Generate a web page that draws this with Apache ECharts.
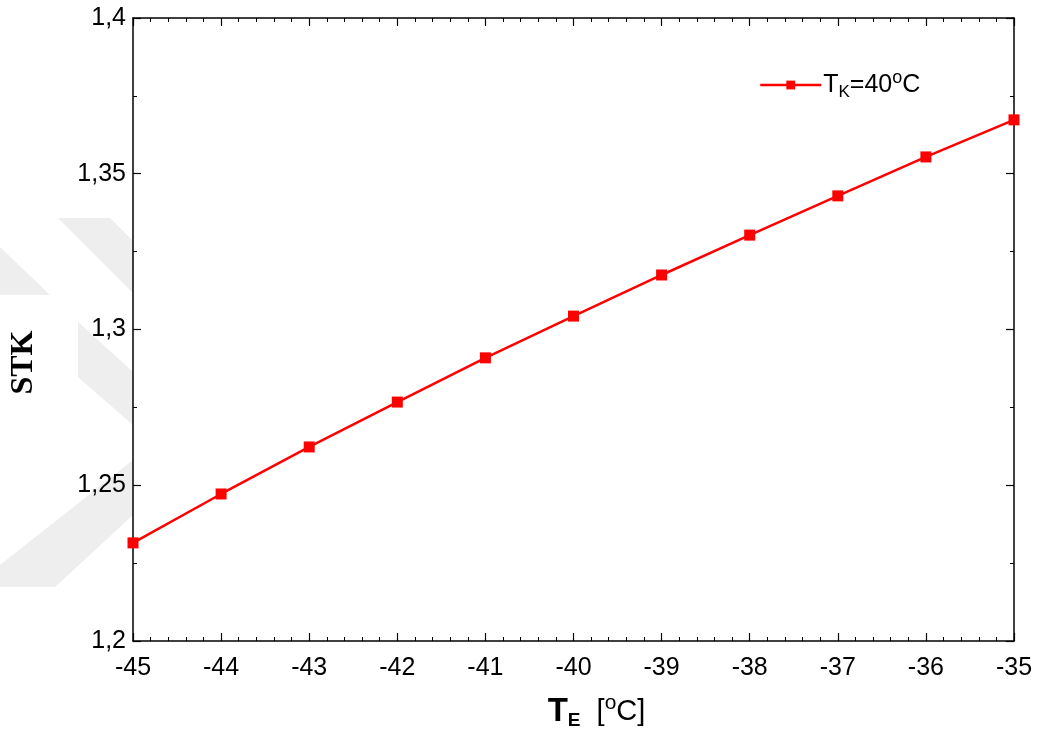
<!DOCTYPE html>
<html>
<head>
<meta charset="utf-8">
<script src="https://cdn.jsdelivr.net/npm/echarts@6/dist/echarts.min.js"></script>
<style>html,body{margin:0;padding:0;background:#fff;}#c{width:1042px;height:731px;}</style>
</head>
<body>
<div id="c"></div>
<script>
const teValues = [-45, -44, -43, -42, -41, -40, -39, -38, -37, -36, -35];
const stkValues = [1.2315, 1.2472, 1.2623, 1.2767, 1.2909, 1.3043, 1.3175, 1.3303, 1.3429, 1.3554, 1.3673];
const seriesName = 'TK=40oC';

const chart = echarts.init(document.getElementById('c'), null, {renderer: 'canvas'});
const font = '"Liberation Sans", Arial, sans-serif';
const fmtY = v => {
  let s = (Math.round(v * 1000) / 1000).toString();
  return s.replace('.', ',');
};
const axisCommon = {
  axisLine: {show: true, onZero: false, lineStyle: {color: '#000', width: 1.5}},
  axisTick: {show: true, inside: true, length: 8, lineStyle: {color: '#000', width: 1.2}},
  minorTick: {show: true, length: 4, lineStyle: {color: '#000', width: 1}},
  splitLine: {show: false}
};
const wm = '#eeeeee';
chart.setOption({
  backgroundColor: '#fff',
  animation: false,
  graphic: [
    {type: 'polygon', z: -10, silent: true, shape: {points: [[0,247],[50,295],[0,295]]}, style: {fill: wm}},
    {type: 'polygon', z: -10, silent: true, shape: {points: [[58,218],[110,218],[133,241],[133,293]]}, style: {fill: wm}},
    {type: 'polygon', z: -10, silent: true, shape: {points: [[78,322],[133,372],[133,425],[78,377]]}, style: {fill: wm}},
    {type: 'polygon', z: -10, silent: true, shape: {points: [[0,565],[133,460],[133,515],[55,587],[0,587]]}, style: {fill: wm}}
  ],
  grid: {left: 133, top: 18, right: 28, bottom: 90, show: true, backgroundColor: '#fff', borderWidth: 0, outerBoundsMode: 'none', containLabel: false},
  legend: {
    left: 754, top: 64,
    itemWidth: 61, itemHeight: 11, itemGap: 0,
    data: [seriesName],
    formatter: () => 'T{sub|K}=40{sup|o}C',
    lineStyle: {width: 2.5},
    textStyle: {
      fontFamily: font, fontSize: 25, color: '#000', padding: [0,0,0,-3],
      rich: {
        sub: {fontFamily: font, fontSize: 17, verticalAlign: 'bottom', padding: [14,0,0,0]},
        sup: {fontFamily: font, fontSize: 18, verticalAlign: 'top', padding: [0,0,14,0]}
      }
    }
  },
  xAxis: [
    Object.assign({}, axisCommon, {
      type: 'value', min: -45, max: -35, interval: 1, position: 'bottom',
      minorTick: Object.assign({}, axisCommon.minorTick, {splitNumber: 5}),
      axisLabel: {fontFamily: font, fontSize: 25, color: '#000', margin: 15},
      name: '{b|T}{bs|E}  [{sup|o}C]',
      nameLocation: 'middle', nameGap: 52,
      nameTextStyle: {
        padding: [0,0,0,46],
        rich: {
          b: {fontFamily: font, fontSize: 33, fontWeight: 'bold', color: '#000'},
          bs: {fontFamily: font, fontSize: 19, fontWeight: 'bold', color: '#000', verticalAlign: 'bottom', padding: [16,0,0,0]},
          sup: {fontFamily: font, fontSize: 21, color: '#000', verticalAlign: 'top', padding: [0,0,16,0]}
        },
        fontFamily: font, fontSize: 29, color: '#000'
      }
    }),
    Object.assign({}, axisCommon, {
      type: 'value', min: -45, max: -35, interval: 1, position: 'top',
      minorTick: Object.assign({}, axisCommon.minorTick, {splitNumber: 5}),
      axisLabel: {show: false}
    })
  ],
  yAxis: [
    Object.assign({}, axisCommon, {
      type: 'value', min: 1.2, max: 1.4, interval: 0.05, position: 'left',
      minorTick: Object.assign({}, axisCommon.minorTick, {splitNumber: 2}),
      axisLabel: {fontFamily: font, fontSize: 25, color: '#000', margin: 7, formatter: fmtY},
      name: 'STK', nameLocation: 'middle', nameGap: 93,
      nameTextStyle: {fontFamily: '"Liberation Serif", "DejaVu Serif", serif', fontSize: 32, fontWeight: 'bold', color: '#000', padding: [0,0,0,-66]}
    }),
    Object.assign({}, axisCommon, {
      type: 'value', min: 1.2, max: 1.4, interval: 0.05, position: 'right',
      minorTick: Object.assign({}, axisCommon.minorTick, {splitNumber: 2}),
      axisLabel: {show: false}
    })
  ],
  series: [{
    name: seriesName, type: 'line',
    xAxisIndex: 0, yAxisIndex: 0,
    data: teValues.map((x, i) => [x, stkValues[i]]),
    symbol: 'rect', symbolSize: 11,
    lineStyle: {color: '#ff0000', width: 2.5},
    itemStyle: {color: '#ff0000'},
    clip: false
  }]
});
</script>
</body>
</html>
